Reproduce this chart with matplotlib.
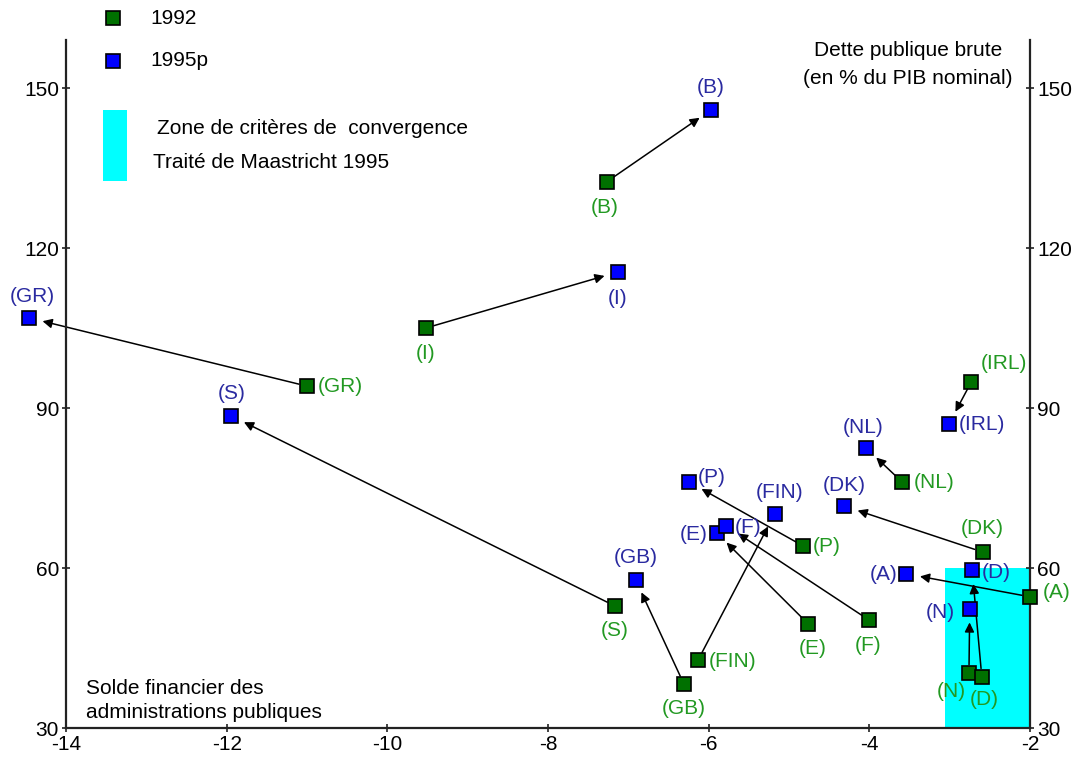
import matplotlib
matplotlib.use("Agg")
import matplotlib.pyplot as plt
from matplotlib.patches import Rectangle

plt.rcParams['font.family'] = ['Liberation Sans', 'DejaVu Sans']

countries = ["B", "I", "GR", "S", "GB", "FIN", "E", "F", "P", "DK", "A", "N", "D", "NL", "IRL"]
solde_1992 = [-7.27, -9.52, -11.0, -7.17, -6.31, -6.13, -4.76, -4.01, -4.82, -2.59, -2.0, -2.76, -2.60, -3.59, -2.73]
dette_1992 = [132.4, 105.0, 94.1, 52.9, 38.3, 42.8, 49.5, 50.3, 64.1, 63.0, 54.6, 40.3, 39.6, 76.1, 94.9]
solde_1995 = [-5.97, -7.13, -14.46, -11.94, -6.91, -5.18, -5.90, -5.78, -6.24, -4.31, -3.54, -2.75, -2.72, -4.04, -3.01]
dette_1995 = [145.9, 115.5, 106.9, 88.5, 57.8, 70.1, 66.6, 67.9, 76.1, 71.6, 58.9, 52.4, 59.6, 82.5, 87.0]

x_ticks = [-14, -12, -10, -8, -6, -4, -2]
y_ticks = [30, 60, 90, 120, 150]
zone_x = [-3.06, -2]
zone_y = [30, 60]

# label offsets in pixels (dx, dy, ha)
off92 = {"B": (-2, -26, "center"), "I": (0, -25, "center"), "GR": (11, 0, "left"),
         "S": (0, -25, "center"), "GB": (0, -25, "center"), "FIN": (11, -2, "left"),
         "E": (4, -25, "center"), "F": (0, -26, "center"), "P": (9, 0, "left"),
         "DK": (0, 24, "center"), "A": (13, 4, "left"), "N": (-18, -18, "center"),
         "D": (2, -23, "center"), "NL": (11, 0, "left"), "IRL": (9, 18, "left")}
off95 = {"B": (0, 22, "center"), "I": (0, -26, "center"), "GR": (3, 21, "center"),
         "S": (0, 23, "center"), "GB": (0, 22, "center"), "FIN": (5, 22, "center"),
         "E": (-9, -2, "right"), "F": (8, -2, "left"), "P": (8, 5, "left"),
         "DK": (0, 21, "center"), "A": (-9, -1, "right"), "N": (-15, -4, "right"),
         "D": (10, -2, "left"), "NL": (-3, 21, "center"), "IRL": (10, 0, "left")}

GREEN_FILL = "#007000"
BLUE_FILL = "#0000ff"
GREEN_TXT = "#229922"
BLUE_TXT = "#2a2aa0"
FS = 15

fig = plt.figure(figsize=(10.83, 7.59), dpi=100)
ax = fig.add_axes([66 / 1083, 31 / 759, 964 / 1083, 688 / 759])
ax.set_xlim(-14, -2)
ax.set_ylim(30, 159)

ax.add_patch(Rectangle((zone_x[0], zone_y[0]), zone_x[1] - zone_x[0], zone_y[1] - zone_y[0],
                       facecolor="#00ffff", edgecolor="none", zorder=1))

for i, c in enumerate(countries):
    ax.annotate("", xy=(solde_1995[i], dette_1995[i]), xytext=(solde_1992[i], dette_1992[i]),
                arrowprops=dict(arrowstyle="-|>", color="black", lw=1.1, mutation_scale=14,
                                shrinkA=6, shrinkB=10), zorder=2, annotation_clip=False)

ax.plot(solde_1992, dette_1992, "s", ms=10, mfc=GREEN_FILL, mec="black", mew=1.2,
        ls="none", zorder=3, clip_on=False)
ax.plot(solde_1995, dette_1995, "s", ms=10, mfc=BLUE_FILL, mec="black", mew=1.2,
        ls="none", zorder=3, clip_on=False)

for i, c in enumerate(countries):
    dx, dy, ha = off92[c]
    ax.annotate(f"({c})", (solde_1992[i], dette_1992[i]), xytext=(dx, dy),
                textcoords="offset pixels", ha=ha, va="center", color=GREEN_TXT,
                fontsize=FS, annotation_clip=False, zorder=4)
    dx, dy, ha = off95[c]
    ax.annotate(f"({c})", (solde_1995[i], dette_1995[i]), xytext=(dx, dy),
                textcoords="offset pixels", ha=ha, va="center", color=BLUE_TXT,
                fontsize=FS, annotation_clip=False, zorder=4)

ax.spines["top"].set_visible(False)
for s in ["left", "bottom", "right"]:
    ax.spines[s].set_linewidth(1.6)
    ax.spines[s].set_color("#222222")

ax.set_xticks(x_ticks)
ax.set_xticklabels([f"{v}" for v in x_ticks])
ax.set_yticks(y_ticks)
ax.tick_params(axis="both", direction="inout", length=6, width=1.2, labelsize=FS, color="#222222")
ax.tick_params(axis="y", which="both", left=True, right=True, labelleft=True, labelright=True, pad=2)
ax.tick_params(axis="x", pad=2)

# figure pixel coordinates, origin top-left
def fx(px):
    return px / 1083
def fy(py):
    return 1 - py / 759

fig.lines.append(plt.Line2D([fx(113)], [fy(18)], marker="s", ms=10, mfc=GREEN_FILL, mec="black",
                            mew=1.2, transform=fig.transFigure))
fig.lines.append(plt.Line2D([fx(113)], [fy(61)], marker="s", ms=10, mfc=BLUE_FILL, mec="black",
                            mew=1.2, transform=fig.transFigure))
fig.text(fx(150), fy(18), "1992", fontsize=FS, va="center", ha="left")
fig.text(fx(150), fy(61), "1995p", fontsize=FS, va="center", ha="left")
fig.patches.append(Rectangle((fx(103), fy(181)), fx(24), 71 / 759, facecolor="#00ffff",
                             edgecolor="none", transform=fig.transFigure))
fig.text(fx(157), fy(129), "Zone de critères de  convergence", fontsize=FS, va="center", ha="left")
fig.text(fx(153), fy(162), "Traité de Maastricht 1995", fontsize=FS, va="center", ha="left")

fig.text(fx(908), fy(51), "Dette publique brute", fontsize=FS, va="center", ha="center")
fig.text(fx(908), fy(79), "(en % du PIB nominal)", fontsize=FS, va="center", ha="center")

fig.text(fx(86), fy(688), "Solde financier des", fontsize=FS, va="center", ha="left")
fig.text(fx(86), fy(713), "administrations publiques", fontsize=FS, va="center", ha="left")

fig.savefig("out.png", dpi=100)
